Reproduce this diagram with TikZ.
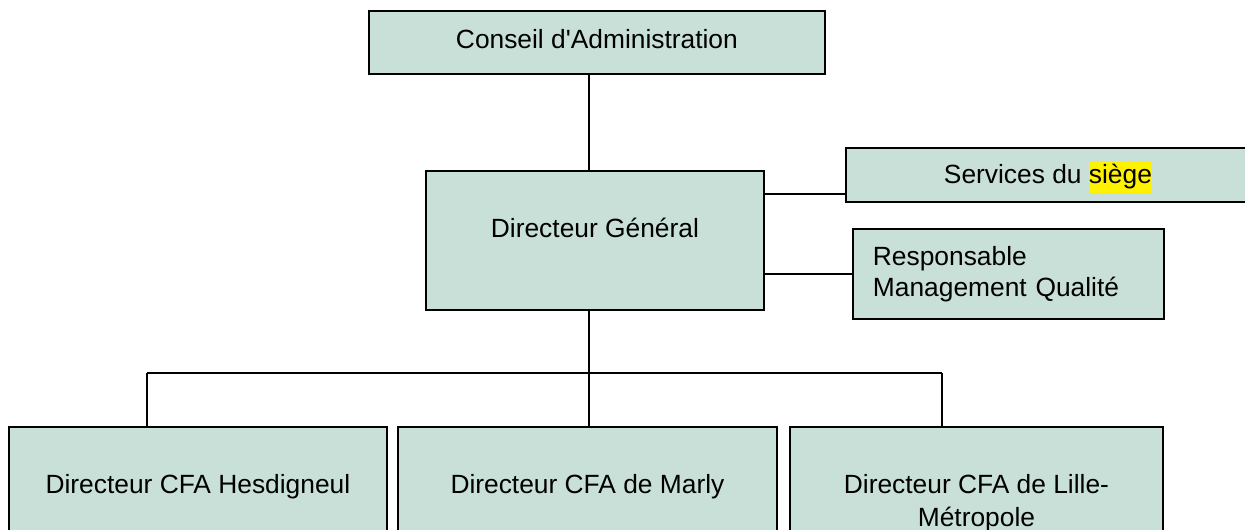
\documentclass[tikz,border=0pt]{standalone}
\usepackage{fontspec}
\setmainfont{Liberation Sans}[Ligatures=TeXOff]
\usepackage{tikz}
\definecolor{boxgreen}{RGB}{200,224,216}

\begin{document}
\begin{tikzpicture}[x=0.02cm,y=-0.02cm,
  orgbox/.style={draw=black,line width=1.1pt,fill=boxgreen,anchor=north west,
    inner xsep=0pt,inner ysep=0pt,font=\fontsize{15}{17.5}\selectfont},
  link/.style={draw=black,line width=0.9pt}]
\useasboundingbox (0,0) rectangle (1245,530);
\clip (0,0) rectangle (1245,530);
\setlength{\fboxsep}{0pt}

\node[orgbox,minimum width=9.12cm,text height=0.75cm,text depth=0.51cm] (ca) at (368,10)
{Conseil d'Administration};
\node[orgbox,minimum width=6.76cm,text height=1.33cm,text depth=1.45cm] (dg) at (425,170)
{Directeur Général};
\node[orgbox,minimum width=8.08cm,text height=0.71cm,text depth=0.37cm] (srv) at (845,147)
{Services du \colorbox{yellow}{\strut siège}};
\node[orgbox,inner xsep=0.4cm,text width=5.42cm,align=left,text height=0.73cm,text depth=1.07cm] (rmq) at (852,228)
{Responsable\\Management Qualité};
\node[orgbox,minimum width=7.56cm,text height=1.34cm,text depth=1.3cm] (cfa1) at (8,426)
{Directeur CFA Hesdigneul};
\node[orgbox,minimum width=7.58cm,text height=1.34cm,text depth=1.3cm] (cfa2) at (397,426)
{Directeur CFA de Marly};
\node[orgbox,minimum width=7.46cm,align=center,text height=1.99cm,text depth=0.66cm] (cfa3) at (789,426)
{Directeur CFA de Lille-\\[1pt]Métropole};

\coordinate (b1) at (147,373);
\coordinate (b2) at (589,373);
\coordinate (b3) at (942,373);
\coordinate (srvin) at ([yshift=0.18cm]srv.south west);

\draw[link] (ca.south -| b2) -- (dg.north -| b2);
\draw[link] (dg.east |- srvin) -- (srvin);
\draw[link] (dg.east |- rmq.west) -- (rmq.west);
\draw[link] (dg.south -| b2) -- (b2);
\draw[link] (b1) -- (b3);
\foreach \i in {1,2,3}
  \draw[link] (b\i) -- (b\i |- cfa\i.north);
\end{tikzpicture}
\end{document}
